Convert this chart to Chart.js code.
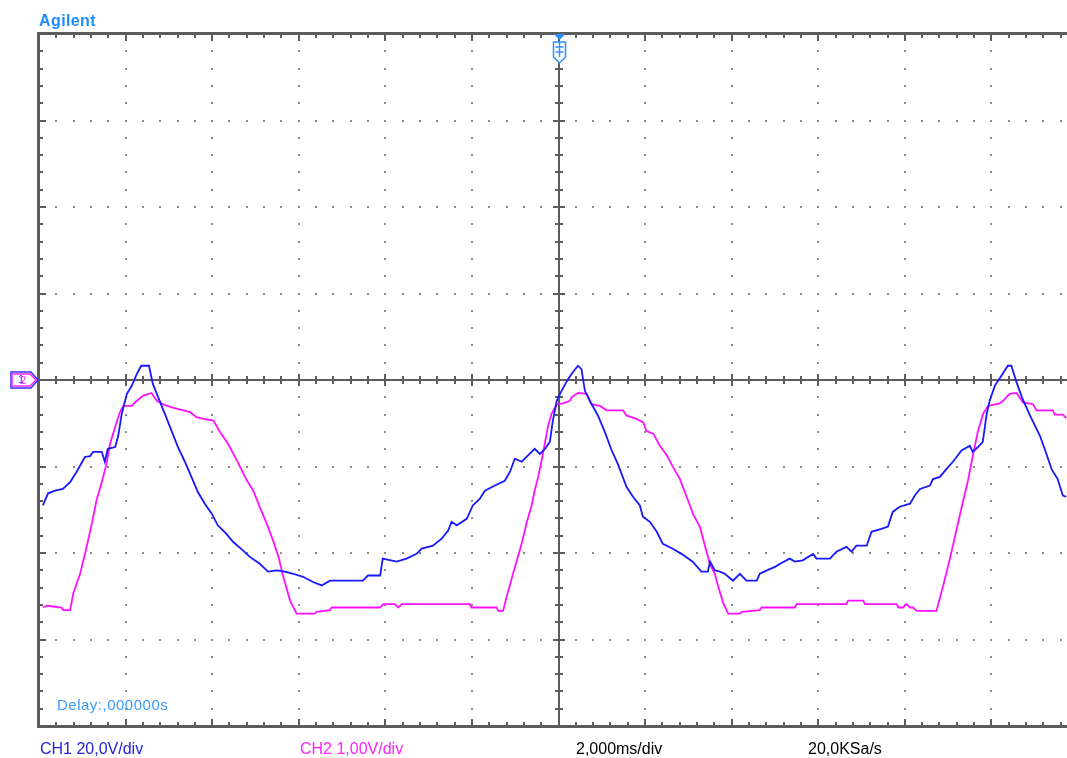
<!DOCTYPE html>
<html>
<head>
<meta charset="utf-8">
<script src="https://cdn.jsdelivr.net/npm/chart.js@4.4.1/dist/chart.umd.min.js"></script>
<style>
html, body { margin: 0; padding: 0; overflow: hidden; background: #fff; }
#wrap { position: relative; width: 1067px; height: 758px; overflow: hidden; }
#scope { position: absolute; left: 0; top: 0; }
.lbl { position: absolute; font-family: "Liberation Sans", Arial, sans-serif; white-space: nowrap; line-height: 1; }
</style>
</head>
<body>
<div id="wrap">
  <canvas id="scope" width="1090" height="758"></canvas>
  <div class="lbl" style="left:39px;top:13px;font-size:16px;font-weight:bold;color:#1a8cff;letter-spacing:0.4px">Agilent</div>
  <div class="lbl" style="left:57px;top:697px;font-size:15px;color:#3a9cff;letter-spacing:0.5px">Delay:,000000s</div>
  <div class="lbl" style="left:40px;top:741px;font-size:16px;color:#2222dd">CH1 20,0V/div</div>
  <div class="lbl" style="left:300px;top:741px;font-size:16px;color:#ff22ff">CH2 1,00V/div</div>
  <div class="lbl" style="left:576px;top:741px;font-size:16px;color:#000">2,000ms/div</div>
  <div class="lbl" style="left:808px;top:741px;font-size:16px;color:#000">20,0KSa/s</div>
</div>
<script>
// time in ms (2 ms/div, trigger at 0), CH1 in V (20 V/div), CH2 in V (1 V/div)
const ch1Time = [-11.91,-11.79,-11.63,-11.45,-11.28,-11.13,-10.94,-10.82,-10.75,-10.55,-10.48,-10.41,-10.24,-10.17,-10.09,-9.97,-9.86,-9.74,-9.64,-9.46,
  -9.37,-9.25,-9.09,-8.94,-8.79,-8.63,-8.44,-8.33,-8.17,-8.01,-7.87,-7.67,-7.52,-7.29,-7.13,-6.90,-6.71,-6.51,-6.32,-6.13,
  -5.90,-5.67,-5.47,-5.28,-4.52,-4.40,-4.12,-4.06,-3.74,-3.51,-3.28,-3.16,-2.90,-2.70,-2.55,-2.47,-2.35,-2.12,-1.98,-1.82,
  -1.70,-1.47,-1.24,-1.12,-1.01,-0.85,-0.71,-0.55,-0.43,-0.31,-0.20,-0.13,-0.04,0.07,0.22,0.33,0.45,0.53,0.61,0.76,
  0.91,1.07,1.23,1.37,1.57,1.72,1.88,1.95,2.11,2.27,2.41,2.64,2.84,3.10,3.30,3.45,3.50,3.61,3.73,3.84,
  4.03,4.19,4.34,4.58,4.65,4.84,5.00,5.15,5.34,5.46,5.64,5.88,5.96,6.27,6.42,6.65,6.77,6.88,7.12,7.23,
  7.46,7.61,7.72,7.88,8.12,8.23,8.35,8.58,8.65,8.81,8.96,9.11,9.31,9.50,9.57,9.69,9.80,9.89,9.96,10.08,
  10.23,10.38,10.46,10.58,10.70,10.89,11.12,11.23,11.39,11.53,11.65,11.73];
const ch1Volt = [-29.0,-26.2,-25.6,-25.2,-23.6,-21.2,-17.8,-17.6,-16.6,-16.6,-18.9,-15.9,-15.5,-12.9,-7.9,-3.2,-1.4,1.4,3.3,3.3,
  -0.9,-3.9,-7.9,-11.7,-15.5,-18.9,-23.3,-25.9,-28.6,-30.9,-33.6,-35.6,-37.4,-39.4,-40.9,-42.5,-44.3,-44.0,-44.3,-44.8,
  -45.5,-46.7,-47.5,-46.4,-46.4,-45.2,-45.2,-41.3,-42.0,-41.3,-40.2,-39.0,-38.3,-36.7,-34.8,-32.8,-33.6,-32.1,-29.0,-27.5,
  -25.6,-24.4,-23.3,-21.2,-18.2,-18.9,-17.5,-15.9,-17.1,-15.9,-14.3,-9.4,-4.8,-2.5,0.2,1.8,3.3,2.5,-2.5,-5.5,
  -8.2,-12.0,-16.3,-19.4,-24.7,-27.0,-29.0,-31.6,-32.8,-35.1,-37.9,-39.0,-40.2,-42.0,-44.3,-44.3,-42.0,-44.0,-44.3,-44.8,
  -46.4,-44.8,-46.4,-46.4,-44.8,-43.9,-43.2,-42.3,-41.3,-42.0,-41.7,-40.2,-41.3,-41.3,-39.7,-38.6,-39.7,-38.3,-38.3,-35.1,
  -34.4,-33.9,-30.5,-29.3,-28.6,-26.7,-25.2,-24.4,-22.9,-22.4,-20.6,-18.9,-16.3,-15.2,-16.6,-15.5,-14.3,-7.9,-4.8,-1.3,
  1.0,3.3,3.3,-0.5,-3.9,-8.2,-12.9,-15.9,-20.6,-22.9,-26.7,-27.0];

const ch2Time = [-11.91,-11.82,-11.48,-11.44,-11.28,-11.21,-11.05,-10.90,-10.78,-10.67,-10.55,-10.44,-10.36,-10.24,-10.13,-10.05,-9.86,-9.74,-9.59,-9.40,
  -9.28,-9.13,-8.97,-8.82,-8.51,-8.36,-8.21,-7.97,-7.82,-7.63,-7.43,-7.20,-7.05,-6.90,-6.74,-6.59,-6.47,-6.36,-6.20,-6.05,
  -5.63,-5.59,-5.28,-5.24,-4.12,-4.05,-3.78,-3.70,-3.62,-2.05,-2.01,-1.43,-1.39,-1.28,-1.20,-1.05,-0.85,-0.74,-0.62,-0.55,
  -0.47,-0.39,-0.31,-0.24,-0.16,-0.04,0.11,0.26,0.30,0.45,0.65,0.76,0.96,1.11,1.49,1.57,1.80,1.96,2.03,2.19,
  2.34,2.50,2.65,2.80,2.96,3.11,3.27,3.38,3.50,3.61,3.69,3.80,3.92,4.19,4.23,4.65,4.69,5.46,5.50,6.65,
  6.69,7.04,7.08,7.81,7.85,7.96,8.04,8.12,8.19,8.27,8.73,8.88,9.04,9.19,9.35,9.46,9.58,9.69,9.81,9.92,
  10.19,10.27,10.42,10.58,10.73,10.96,11.04,11.42,11.46,11.65,11.73];
const ch2Volt = [-2.63,-2.61,-2.63,-2.66,-2.66,-2.47,-2.24,-1.93,-1.66,-1.39,-1.18,-0.97,-0.74,-0.54,-0.37,-0.30,-0.30,-0.24,-0.18,-0.15,
  -0.24,-0.28,-0.31,-0.33,-0.37,-0.43,-0.45,-0.47,-0.60,-0.74,-0.93,-1.16,-1.28,-1.47,-1.66,-1.86,-2.04,-2.27,-2.55,-2.70,
  -2.70,-2.68,-2.66,-2.63,-2.63,-2.59,-2.59,-2.63,-2.59,-2.59,-2.63,-2.63,-2.67,-2.67,-2.51,-2.24,-1.89,-1.66,-1.45,-1.28,
  -1.12,-0.93,-0.72,-0.53,-0.39,-0.28,-0.27,-0.24,-0.20,-0.15,-0.16,-0.28,-0.30,-0.35,-0.35,-0.41,-0.45,-0.49,-0.59,-0.62,
  -0.76,-0.87,-1.01,-1.14,-1.35,-1.55,-1.70,-1.91,-2.13,-2.24,-2.39,-2.57,-2.70,-2.70,-2.68,-2.66,-2.63,-2.63,-2.59,-2.59,
  -2.55,-2.55,-2.59,-2.59,-2.63,-2.63,-2.59,-2.63,-2.63,-2.67,-2.67,-2.39,-2.07,-1.74,-1.39,-1.16,-0.85,-0.59,-0.39,-0.30,
  -0.27,-0.24,-0.16,-0.15,-0.26,-0.28,-0.35,-0.35,-0.40,-0.40,-0.44];

const msPerDiv = 2, ch1PerDiv = 20, ch2PerDiv = 1;

function points(xs, ys) {
  return xs.map((x, i) => ({x: x, y: ys[i]}));
}

// graticule of the scope screen, drawn from the scales
const scopeGrid = {
  id: 'scopeGrid',
  beforeDatasetsDraw(chart) {
    const ctx = chart.ctx, sx = chart.scales.x, sy = chart.scales.y;
    const X = v => Math.round(sx.getPixelForValue(v));
    const Y = v => Math.round(sy.getPixelForValue(v));
    const left = X(-6 * msPerDiv), right = X(6 * msPerDiv);
    const top = Y(4 * ch1PerDiv), bottom = Y(-4 * ch1PerDiv);
    const cx = X(0), cy = Y(0);
    const minX = msPerDiv / 5, minY = ch1PerDiv / 5;
    ctx.save();
    ctx.fillStyle = '#8a8a8a';
    const dot = (x, y) => ctx.fillRect(x - 1, y - 1, 2, 2);
    for (let i = -5; i <= 6; i++) {
      if (i === 0) continue;
      for (let j = -19; j <= 19; j++) dot(X(i * msPerDiv), Y(j * minY));
    }
    for (let j = -3; j <= 3; j++) {
      if (j === 0) continue;
      for (let i = -29; i <= 30; i++) dot(X(i * minX), Y(j * ch1PerDiv));
    }
    ctx.fillStyle = '#5c5c5c';
    // frame
    ctx.fillRect(left - 2, top - 2, 3, bottom - top + 4);
    ctx.fillRect(left - 2, top - 2, right - left + 4, 3);
    ctx.fillRect(left - 2, bottom - 1, right - left + 4, 3);
    // center axes
    ctx.fillRect(cx - 1, top, 2, bottom - top);
    ctx.fillRect(left, cy - 1, right - left, 2);
    for (let i = -29; i <= 30; i++) {
      const x = X(i * minX), big = i % 5 === 0;
      const len = big ? 7 : 4;
      ctx.fillRect(x - 1, top, 2, len);
      ctx.fillRect(x - 1, bottom - len, 2, len);
      const c = big ? 6 : 4;
      ctx.fillRect(x - 1, cy - c, 2, 2 * c);
    }
    for (let j = -19; j <= 19; j++) {
      const y = Y(j * minY), big = j % 5 === 0;
      ctx.fillRect(left, y - 1, big ? 7 : 4, 2);
      const c = j === 0 ? 8 : (big ? 6 : 4);
      ctx.fillRect(cx - c, y - 1, 2 * c, 2);
    }
    ctx.restore();
  },
  afterDraw(chart) {
    const ctx = chart.ctx, sx = chart.scales.x, sy = chart.scales.y;
    const left = Math.round(sx.getPixelForValue(-6 * msPerDiv));
    const top = Math.round(sy.getPixelForValue(4 * ch1PerDiv));
    const cx = Math.round(sx.getPixelForValue(0)) + 0.5;
    const cy = Math.round(sy.getPixelForValue(0));
    const poly = (pts) => {
      ctx.beginPath();
      pts.forEach((p, i) => i ? ctx.lineTo(p[0], p[1]) : ctx.moveTo(p[0], p[1]));
      ctx.closePath();
    };
    ctx.save();
    ctx.lineWidth = 1.5;
    // ground reference markers
    ctx.fillStyle = '#fff';
    ctx.strokeStyle = '#3030ff';
    poly([[left - 28, cy - 8], [left - 8, cy - 8], [left - 1, cy], [left - 8, cy + 8], [left - 28, cy + 8]]);
    ctx.fill(); ctx.stroke();
    ctx.strokeStyle = '#ff22ff';
    poly([[left - 27, cy - 6], [left - 9, cy - 6], [left - 3, cy], [left - 9, cy + 6], [left - 27, cy + 6]]);
    ctx.stroke();
    ctx.font = '11px "Liberation Sans", Arial, sans-serif';
    ctx.textAlign = 'center';
    ctx.textBaseline = 'middle';
    ctx.fillStyle = '#3030ff';
    ctx.fillText('1', left - 18, cy);
    ctx.fillStyle = '#ff22ff';
    ctx.fillText('2', left - 16, cy + 1);
    // trigger marker
    ctx.strokeStyle = '#2f8fff';
    ctx.fillStyle = '#fff';
    poly([[cx - 6, top + 8], [cx + 6, top + 8], [cx + 6, top + 23], [cx, top + 29], [cx - 6, top + 23]]);
    ctx.fill(); ctx.stroke();
    ctx.beginPath();
    ctx.moveTo(cx - 4, top + 13); ctx.lineTo(cx + 4, top + 13);
    ctx.moveTo(cx - 4, top + 18); ctx.lineTo(cx + 4, top + 18);
    ctx.moveTo(cx, top + 8); ctx.lineTo(cx, top + 23);
    ctx.stroke();
    ctx.fillStyle = '#2f8fff';
    poly([[cx - 6, top], [cx + 6, top], [cx, top + 6]]);
    ctx.fill();
    ctx.restore();
  }
};

new Chart(document.getElementById('scope'), {
  type: 'line',
  data: {
    datasets: [
      {
        label: 'CH1',
        data: points(ch1Time, ch1Volt),
        yAxisID: 'y',
        borderColor: '#1818ff',
        borderWidth: 1.8,
        pointRadius: 0,
        tension: 0
      },
      {
        label: 'CH2',
        data: points(ch2Time, ch2Volt),
        yAxisID: 'y2',
        borderColor: '#ff10ff',
        borderWidth: 1.8,
        pointRadius: 0,
        tension: 0
      }
    ]
  },
  options: {
    responsive: false,
    animation: false,
    events: [],
    parsing: true,
    layout: { padding: { left: 39, top: 34, right: 12, bottom: 32 } },
    plugins: { legend: { display: false }, tooltip: { enabled: false } },
    scales: {
      x: { type: 'linear', min: -6 * msPerDiv, max: 6 * msPerDiv, display: false },
      y: { type: 'linear', min: -4 * ch1PerDiv, max: 4 * ch1PerDiv, display: false },
      y2: { type: 'linear', min: -4 * ch2PerDiv, max: 4 * ch2PerDiv, display: false }
    }
  },
  plugins: [scopeGrid]
});
</script>
</body>
</html>
